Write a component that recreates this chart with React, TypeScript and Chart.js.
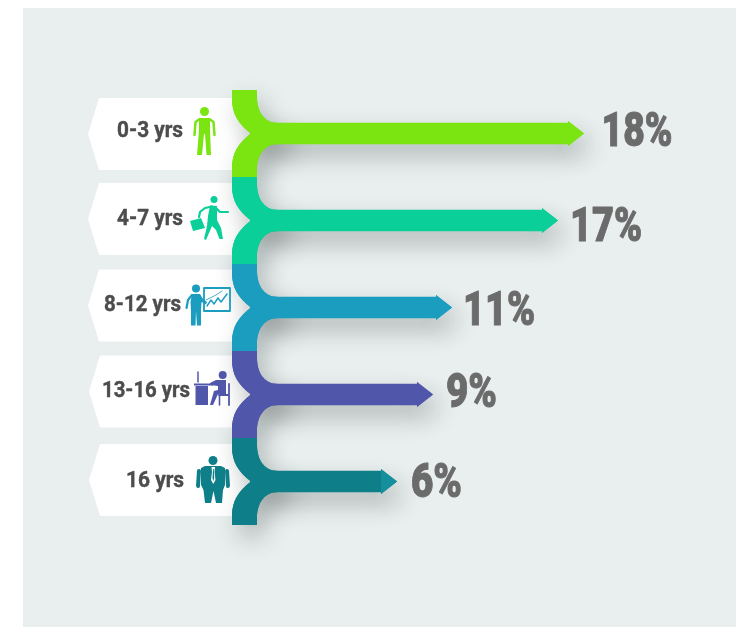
import React, { useEffect, useRef } from "react";
import { Chart, registerables } from "chart.js";

Chart.register(...registerables);

const categories = ["0-3 yrs", "4-7 yrs", "8-12 yrs", "13-16 yrs", "16 yrs"];
const percentLabels = ["18%", "17%", "11%", "9%", "6%"];
// The picture's arrows are not proportional to their printed percentages,
// so drawn shaft lengths are read from the picture separately.
const shaftLengths = [15.9, 14.6, 9.3, 8.35, 6.55];
const colors = ["#7ae510", "#0bcf98", "#1a9dbf", "#5057ab", "#0e7f88"];
const headColors = ["#7ae510", "#0bcf98", "#1a9dbf", "#5057ab", "#14909c"];

const HEAD_LEN = 16;
const HEAD_HALF = 12.5;

function connector(ctx: any, left: number, top: number, bottom: number, cy: number) {
  const x = left;
  const barTop = cy - 10.5;
  const barBot = cy + 10.5;
  ctx.beginPath();
  ctx.moveTo(x - 18, top);
  ctx.lineTo(x + 7, top);
  ctx.lineTo(x + 7, top + 7);
  ctx.bezierCurveTo(x + 7, barTop - 13, x + 13, barTop, x + 28, barTop);
  ctx.lineTo(x + 34, barTop);
  ctx.lineTo(x + 34, barBot);
  ctx.lineTo(x + 28, barBot);
  ctx.bezierCurveTo(x + 13, barBot, x + 7, barBot + 13, x + 7, bottom - 7);
  ctx.lineTo(x + 7, bottom);
  ctx.lineTo(x - 18, bottom);
  ctx.lineTo(x - 18, bottom - 9);
  ctx.bezierCurveTo(x - 18, cy + 20, x - 12, cy + 10, x + 1, cy);
  ctx.bezierCurveTo(x - 12, cy - 10, x - 18, cy - 20, x - 18, top + 9);
  ctx.closePath();
  ctx.fill();
}

function head(ctx: any, x: number, y: number) {
  ctx.beginPath();
  ctx.moveTo(x, y - HEAD_HALF);
  ctx.lineTo(x + HEAD_LEN, y);
  ctx.lineTo(x, y + HEAD_HALF);
  ctx.closePath();
  ctx.fill();
}

function limb(ctx: any, pts: number[][], w: number) {
  ctx.lineWidth = w;
  ctx.lineCap = "round";
  ctx.lineJoin = "round";
  ctx.beginPath();
  pts.forEach((p, i) => (i ? ctx.lineTo(p[0], p[1]) : ctx.moveTo(p[0], p[1])));
  ctx.stroke();
}

function disc(ctx: any, x: number, y: number, r: number) {
  ctx.beginPath();
  ctx.arc(x, y, r, 0, Math.PI * 2);
  ctx.fill();
}

function poly(ctx: any, pts: number[][]) {
  ctx.beginPath();
  pts.forEach((p, i) => (i ? ctx.lineTo(p[0], p[1]) : ctx.moveTo(p[0], p[1])));
  ctx.closePath();
  ctx.fill();
}

const icons = [
  (c: any) => {
    disc(c, 204.5, 111.5, 4.5);
    poly(c, [[199, 118], [210, 118], [210, 130], [211, 155], [206.5, 155], [205, 134], [204, 134], [202, 155], [197, 155], [199, 130]]);
    limb(c, [[199, 119.5], [195.5, 122], [194.5, 135]], 2.5);
    limb(c, [[210, 119.5], [213.5, 122], [214.5, 135]], 2.5);
  },
  (c: any) => {
    disc(c, 214, 199.5, 3.5);
    limb(c, [[199, 217], [200, 212], [205, 208], [212, 206.5]], 2.2);
    limb(c, [[216, 208], [220, 212], [228, 212]], 2.2);
    poly(c, [[210, 205.5], [217, 206], [217, 220], [221, 228], [223, 239], [219.5, 239], [216, 230], [212, 226], [209, 233], [206, 240], [204, 239], [207, 226], [208, 216]]);
    poly(c, [[190, 221], [201, 218], [205, 228], [193, 231]]);
  },
  (c: any) => {
    disc(c, 196, 288.5, 4);
    poly(c, [[192, 294], [200, 294], [203, 299], [207, 302], [206, 304.5], [201.5, 302], [201, 311], [201, 325.5], [197, 325.5], [196, 311], [195.5, 325.5], [191, 325.5], [191, 311], [190.5, 302]]);
    limb(c, [[192, 295], [188, 300], [186.5, 308]], 2.2);
    c.lineWidth = 1.8;
    c.lineCap = "butt";
    c.strokeRect(204, 288, 26, 23);
    limb(c, [[207, 306], [211, 300], [214, 304], [218, 298], [221, 302], [227, 294]], 1.4);
    limb(c, [[206, 300], [216, 295], [222, 291]], 0.8);
  },
  (c: any) => {
    disc(c, 222.7, 375, 4);
    poly(c, [[195.5, 386], [208, 386], [208, 405], [195.5, 405]]);
    poly(c, [[194, 383.5], [213, 383.5], [213, 385.5], [194, 385.5]]);
    limb(c, [[198, 372], [198, 382]], 1.5);
    poly(c, [[216, 380], [226, 380], [226, 394], [218, 394], [213, 405], [210, 405], [214, 391], [218, 390], [218, 386], [210, 385], [210, 383]]);
    limb(c, [[229, 384], [229, 405]], 1.8);
    limb(c, [[219, 395], [228, 395]], 2);
    limb(c, [[219.5, 395], [219.5, 405]], 1.6);
  },
  (c: any) => {
    disc(c, 213, 460.5, 4.5);
    poly(c, [[205, 466], [221, 466], [225, 468], [225, 485], [223, 490], [222, 503], [216, 503], [213.5, 491], [211, 503], [205, 503], [203.5, 490], [201, 485], [201, 468]]);
    limb(c, [[199, 471], [198, 486]], 4);
    limb(c, [[227, 471], [228, 486]], 4);
    c.fillStyle = "#ffffff";
    poly(c, [[211.5, 467], [215, 467], [214.5, 472], [215.5, 480], [213.3, 484], [211, 480], [212, 472]]);
    c.fillStyle = "#0e7f88";
    poly(c, [[213, 469], [213.8, 469], [214.2, 478], [213.3, 481], [212.5, 478]]);
  },
];

const tabCenters = [0.5, -1.5, -2, -3, -1.5];
const pctLefts = [601.5, 570, 463, 446, 411];
const pctWidths = [71, 72, 72, 51, 51];
const pctBaselines = [146, 241, 325, 407, 497];
const labelLefts = [117, 117, 104, 102, 126];
const labelWidths = [66, 66, 77, 88, 58];
const labelBaselines = [137, 225, 310.5, 397, 486.5];

function fitText(ctx: any, text: string, x: number, y: number, width: number, weight: number) {
  const m = ctx.measureText(text);
  ctx.save();
  ctx.translate(x, y);
  ctx.scale(width / m.width, 1);
  ctx.textAlign = "left";
  ctx.textBaseline = "alphabetic";
  ctx.fillText(text, 0, 0);
  ctx.strokeStyle = ctx.fillStyle;
  ctx.lineWidth = weight;
  ctx.lineJoin = "round";
  ctx.strokeText(text, 0, 0);
  ctx.restore();
}

const infographic = {
  id: "infographic",
  beforeDatasetsDraw(chart: any) {
    const { ctx, chartArea } = chart;
    const bars = chart.getDatasetMeta(0).data;
    const left = chartArea.left;
    const band = chart.scales.y.getPixelForValue(1) - chart.scales.y.getPixelForValue(0);
    ctx.save();
    ctx.fillStyle = "#e9efef";
    ctx.fillRect(23, 8, 713, 619);
    ctx.fillStyle = "#ffffff";
    bars.forEach((b: any, i: number) => {
      const c = b.y + tabCenters[i];
      const d = i > 2 ? 1 : 0;
      poly(ctx, [[99 + d, c - 36], [left, c - 36], [left, c + 36], [99 + d, c + 36], [88 + d, c]]);
    });
    ctx.shadowColor = "rgba(40,50,50,0.3)";
    ctx.shadowBlur = 24;
    ctx.shadowOffsetX = 7;
    ctx.shadowOffsetY = 12;
    bars.forEach((b: any, i: number) => {
      ctx.fillStyle = colors[i];
      connector(ctx, left, b.y - band / 2, b.y + band / 2, b.y);
      ctx.fillRect(left, b.y - 10.5, b.x - left, 21);
      head(ctx, b.x, b.y);
    });
    ctx.restore();
  },
  afterDatasetsDraw(chart: any) {
    const { ctx, chartArea } = chart;
    const bars = chart.getDatasetMeta(0).data;
    const left = chartArea.left;
    const band = chart.scales.y.getPixelForValue(1) - chart.scales.y.getPixelForValue(0);
    ctx.save();
    bars.forEach((b: any, i: number) => {
      ctx.fillStyle = colors[i];
      connector(ctx, left, b.y - band / 2, b.y + band / 2, b.y);
      ctx.fillStyle = headColors[i];
      head(ctx, b.x, b.y);
      ctx.fillStyle = colors[i];
      ctx.strokeStyle = colors[i];
      ctx.save();
      icons[i](ctx);
      ctx.restore();
    });
    bars.forEach((b: any, i: number) => {
      ctx.fillStyle = "#4d4d4d";
      ctx.font = "bold 22px Roboto, sans-serif";
      fitText(ctx, categories[i], labelLefts[i], labelBaselines[i], labelWidths[i], 0.4);
      ctx.fillStyle = "#6b6b6b";
      ctx.font = "900 48px Roboto, sans-serif";
      fitText(ctx, percentLabels[i], pctLefts[i], pctBaselines[i], pctWidths[i], 1);
    });
    ctx.restore();
  },
};

export default function App() {
  const ref = useRef<HTMLCanvasElement | null>(null);
  useEffect(() => {
    const chart = new Chart(ref.current as HTMLCanvasElement, {
      type: "bar",
      data: {
        labels: categories,
        datasets: [{ data: shaftLengths, backgroundColor: colors, borderWidth: 0, barThickness: 21 }],
      },
      options: {
        indexAxis: "y",
        animation: false,
        responsive: false,
        layout: { padding: { left: 250, right: 86, top: 90, bottom: 102 } },
        plugins: { legend: { display: false }, tooltip: { enabled: false } },
        scales: {
          x: { display: false, min: 0, max: 20 },
          y: { display: false },
        },
      },
      plugins: [infographic],
    });
    return () => chart.destroy();
  }, []);
  return (
    <div style={{ position: "absolute", left: 0, top: 0, width: 736, height: 627, background: "#ffffff" }}>
      <canvas ref={ref} width={736} height={627} style={{ display: "block" }} />
    </div>
  );
}
